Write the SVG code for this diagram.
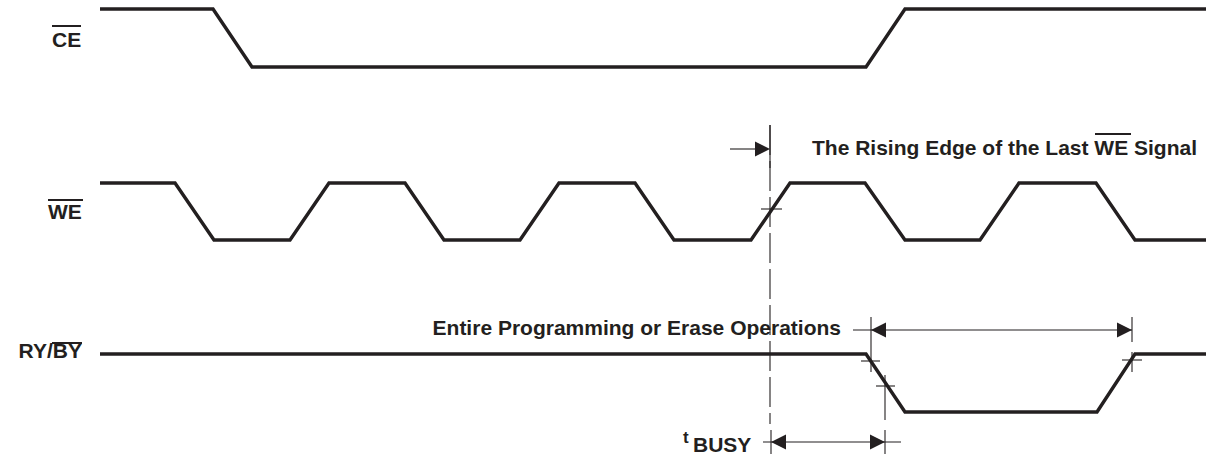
<svg xmlns="http://www.w3.org/2000/svg" width="1216" height="460" viewBox="0 0 1216 460">
<style>
.sig{fill:none;stroke:#231f20;stroke-width:3.4;stroke-linejoin:miter}
.thin{fill:none;stroke:#231f20;stroke-width:1.1}
.dash{fill:none;stroke:#231f20;stroke-width:1.1;stroke-dasharray:30 6}
.ov{stroke:#231f20;stroke-width:2}
text{font-family:"Liberation Sans",Arial,sans-serif;font-weight:bold;font-size:21px;fill:#231f20}
.ah{fill:#231f20}
</style>
<rect width="1216" height="460" fill="#fff"/>
<g id="label-ce">
<text x="52" y="47">CE</text>
<line class="ov" x1="52" y1="26" x2="81" y2="26"/>
</g>
<g id="label-we">
<text x="48" y="219">WE</text>
<line class="ov" x1="48" y1="200" x2="83" y2="200"/>
</g>
<g id="label-ryby">
<text x="82" y="358" text-anchor="end">RY/BY</text>
<line class="ov" x1="52" y1="343" x2="82" y2="343"/>
</g>
<g id="signal-ce">
<polyline class="sig" points="100,9 213,9 252,67 866,67 905,9 1206,9"/>
</g>
<g id="signal-we">
<polyline class="sig" points="100,183 175,183 214,240 290,240 329,183 405,183 444,240 520,240 559,183 635,183 674,240 751,240 790,183 865,183 905,240 980,240 1019,183 1096,183 1135,240 1206,240"/>
</g>
<g id="signal-ryby">
<polyline class="sig" points="100,354 866,354 905,412 1097,412 1135,354 1206,354"/>
</g>
<g id="annotation-rising-edge">
<text x="812" y="155">The Rising Edge of the Last WE Signal</text>
<line class="ov" x1="1095" y1="134" x2="1131" y2="134"/>
</g>
<g id="annotation-entire">
<text x="841" y="335" text-anchor="end">Entire Programming or Erase Operations</text>
</g>
<g id="annotation-tbusy">
<text x="683" y="443" style="font-size:17px">t</text>
<text x="693" y="452">BUSY</text>
</g>
<g id="connectors">
<line class="dash" x1="770" y1="125" x2="770" y2="424"/>
<line class="thin" x1="770" y1="125" x2="770" y2="168"/>
<line class="thin" x1="730" y1="149" x2="760" y2="149"/>
<polygon class="ah" points="770,149 755,141.5 755,156.5"/>
<line class="thin" x1="761" y1="209" x2="782" y2="209"/>
<line class="thin" x1="853" y1="330" x2="1132" y2="330"/>
<polygon class="ah" points="871,330 886,322.5 886,337.5"/>
<polygon class="ah" points="1132,330 1117,322.5 1117,337.5"/>
<line class="thin" x1="871" y1="317" x2="871" y2="372"/>
<line class="thin" x1="861" y1="361" x2="880" y2="361"/>
<line class="thin" x1="885" y1="375" x2="885" y2="420"/>
<line class="thin" x1="876" y1="386" x2="895" y2="386"/>
<line class="thin" x1="1132" y1="317" x2="1132" y2="342"/>
<line class="thin" x1="1132" y1="352" x2="1132" y2="372"/>
<line class="thin" x1="1122" y1="360" x2="1142" y2="360"/>
<line class="thin" x1="763" y1="442" x2="901" y2="442"/>
<polygon class="ah" points="771,442 786,434.5 786,449.5"/>
<polygon class="ah" points="885,442 870,434.5 870,449.5"/>
<line class="thin" x1="771" y1="430" x2="771" y2="454"/>
<line class="thin" x1="885" y1="430" x2="885" y2="454"/>
</g>
</svg>
